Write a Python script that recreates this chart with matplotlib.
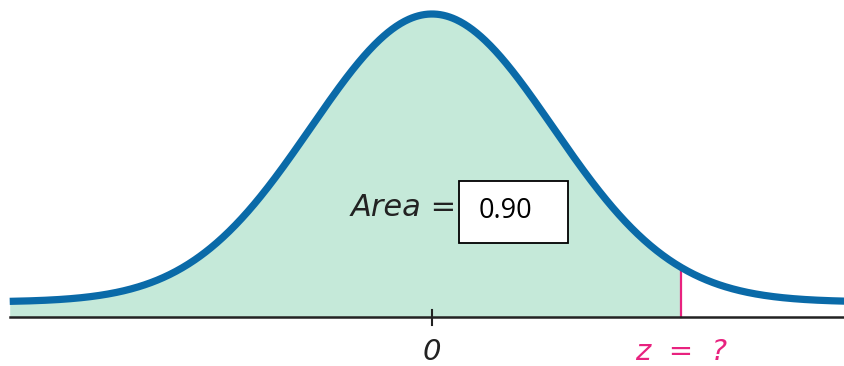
import numpy as np
import matplotlib
matplotlib.use("Agg")
import matplotlib.pyplot as plt
from matplotlib.patches import Rectangle

# --- values ---
mean = 0.0
area_label = "0.90"
z_line = 2.06          # position of the pink marker (in curve sd units)
x_start, x_end = -3.49, 3.41
baseline = 15.0        # curve asymptote above axis
peak_height = 288.0    # height of peak above asymptote
tick_positions = [0.0]
tick_labels = ["0"]

curve_color = "#0a6aa8"
fill_color = "#c5e9d9"
pink = "#e8227f"

fig = plt.figure(figsize=(8.44, 3.66), dpi=100)
ax = fig.add_axes([0, 0, 1, 1])
ax.set_xlim(-432/121, (844-432)/121)
ax.set_ylim(-49, 317)
ax.axis("off")

x = np.linspace(x_start, x_end, 800)
y = baseline + peak_height*np.exp(-0.5*(x-mean)**2)

m = x <= z_line
ax.fill_between(x[m], 0, y[m], color=fill_color, lw=0, zorder=1)
yz = baseline + peak_height*np.exp(-0.5*(z_line-mean)**2)
ax.plot([z_line, z_line], [0, yz], color=pink, lw=1.6, zorder=2)
ax.plot(x, y, color=curve_color, lw=5.2, solid_capstyle="butt", zorder=3)

# axis line
ax.plot([x_start, x_end + 0.2], [0, 0], color="#222222", lw=1.8, zorder=4)
for tp, tl in zip(tick_positions, tick_labels):
    ax.plot([tp, tp], [-8, 7], color="#222222", lw=1.5, zorder=4)
    ax.text(tp, -35, tl, ha="center", va="center", fontsize=21,
            style="italic", family="DejaVu Sans", color="#222222")

ax.text(z_line, -35, "z  =  ?", ha="center", va="center", fontsize=21,
        style="italic", family="DejaVu Sans", color=pink)

ax.text((457-432)/121, 109, "Area =", ha="right", va="center", fontsize=22,
        style="italic", family="DejaVu Sans", color="#222222")

ax.add_patch(Rectangle(((459-432)/121, 317-243), (568-459)/121, 62,
                       facecolor="white", edgecolor="black", lw=1.3, zorder=5))
ax.text((479-432)/121, 106, area_label, ha="left", va="center", fontsize=19.5,
        family="Open Sans", color="black", zorder=6)

fig.savefig("out.png", dpi=100)
